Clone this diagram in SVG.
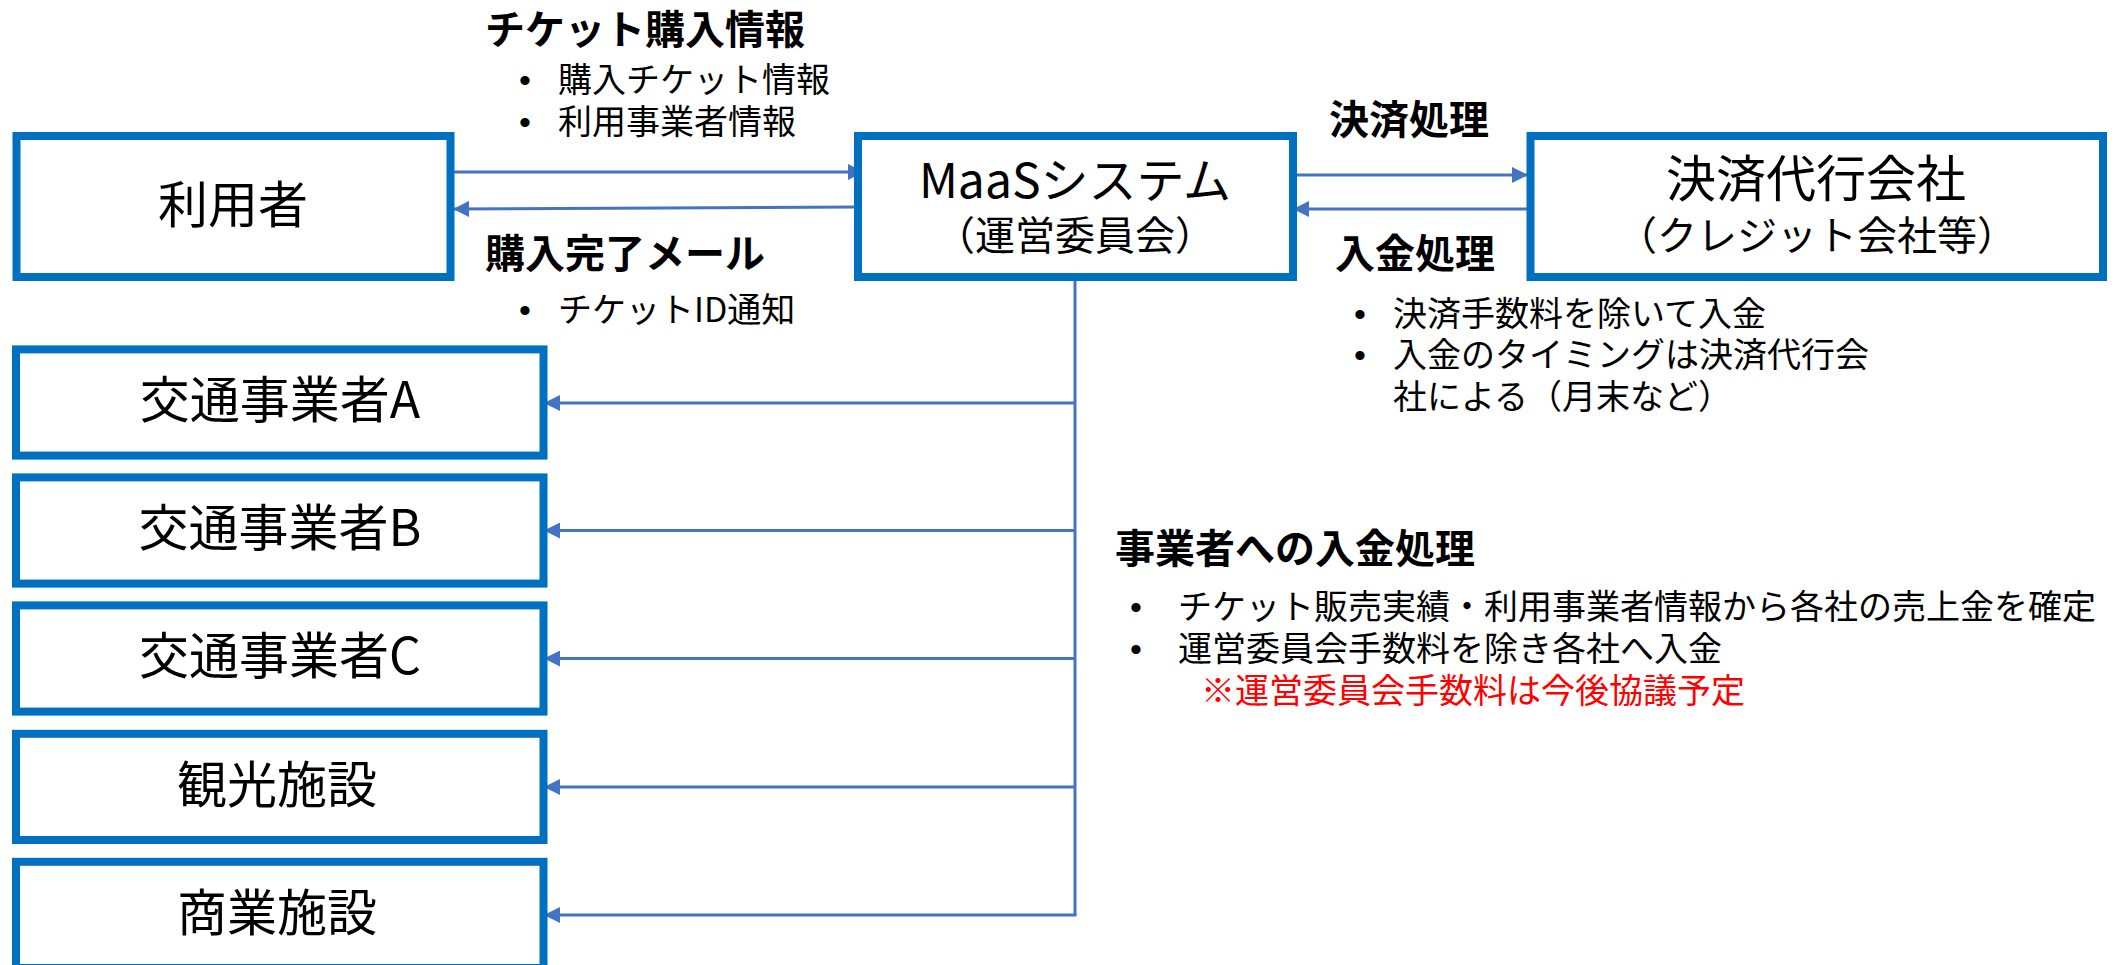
<svg xmlns="http://www.w3.org/2000/svg" width="2123" height="965" viewBox="0 0 2123 965">
<style>
.box{fill:#fff;stroke:#0070C0;stroke-width:8}
.lbl{font-family:"Noto Sans CJK JP","Noto Sans",sans-serif;fill:#000;text-anchor:middle}
.big{font-size:50px}
.h{font-family:"Noto Sans CJK JP","Noto Sans",sans-serif;font-weight:bold;font-size:40px;fill:#000}
.b{font-family:"Noto Sans CJK JP","Noto Sans",sans-serif;font-size:34px;fill:#000}
.dot{font-family:"Liberation Sans",sans-serif;font-size:34px;fill:#000}
.red{fill:#FF0000}
.con{fill:none;stroke:#4472C4;stroke-width:3}
</style>
<defs>
<marker id="ah" markerUnits="userSpaceOnUse" markerWidth="16" markerHeight="16" refX="16" refY="8" orient="auto">
<path d="M0,0 L16,8 L0,16 z" fill="#4472C4"/>
</marker>
</defs>
<rect width="2123" height="965" fill="#fff"/>

<g id="connectors">
<path class="con" d="M454,172 H864" marker-end="url(#ah)"/>
<path class="con" d="M857,207 L453,209" marker-end="url(#ah)"/>
<path class="con" d="M1297,175 H1528" marker-end="url(#ah)"/>
<path class="con" d="M1527,209 H1293" marker-end="url(#ah)"/>
<path class="con" d="M1075,281 V915"/>
<path class="con" d="M1076,403 H544" marker-end="url(#ah)"/>
<path class="con" d="M1076,530.5 H544" marker-end="url(#ah)"/>
<path class="con" d="M1076,658.5 H544" marker-end="url(#ah)"/>
<path class="con" d="M1076,787 H544" marker-end="url(#ah)"/>
<path class="con" d="M1076.5,915 H544" marker-end="url(#ah)"/>
</g>

<g id="user">
<rect class="box" x="16.5" y="136" width="434" height="141"/>
<text class="lbl big" x="233" y="223">利用者</text>
</g>
<g id="maas">
<rect class="box" x="858" y="136" width="435" height="141"/>
<text class="lbl" x="1075" y="198" font-size="48">MaaSシステム</text>
<text class="lbl" x="1075" y="250" font-size="40">（運営委員会）</text>
</g>
<g id="payment">
<rect class="box" x="1530.5" y="136" width="572.5" height="141"/>
<text class="lbl big" x="1816" y="197">決済代行会社</text>
<text class="lbl" x="1817" y="250" font-size="40">（クレジット会社等）</text>
</g>
<g id="opA">
<rect class="box" x="16" y="349.4" width="527.5" height="106.2"/>
<text class="lbl big" x="280" y="418">交通事業者A</text>
</g>
<g id="opB">
<rect class="box" x="16" y="477.4" width="527.5" height="106.2"/>
<text class="lbl big" x="280" y="546">交通事業者B</text>
</g>
<g id="opC">
<rect class="box" x="16" y="605.4" width="527.5" height="106.2"/>
<text class="lbl big" x="280" y="674">交通事業者C</text>
</g>
<g id="tourism">
<rect class="box" x="16" y="733.8" width="527.5" height="106.2"/>
<text class="lbl big" x="277" y="802.5">観光施設</text>
</g>
<g id="commerce">
<rect class="box" x="16" y="861.8" width="527.5" height="106.2"/>
<text class="lbl big" x="277" y="930.5">商業施設</text>
</g>

<g id="label-ticket">
<text class="h" x="485" y="44">チケット購入情報</text>
<text class="dot" x="519" y="92">•</text>
<text class="b" x="558" y="92">購入チケット情報</text>
<text class="dot" x="519" y="134">•</text>
<text class="b" x="558" y="134">利用事業者情報</text>
</g>
<g id="label-mail">
<text class="h" x="485" y="268">購入完了メール</text>
<text class="dot" x="519" y="321.5">•</text>
<text class="b" x="558" y="321.5">チケットID通知</text>
</g>
<g id="label-settle">
<text class="h" x="1329" y="134">決済処理</text>
</g>
<g id="label-deposit">
<text class="h" x="1335" y="268">入金処理</text>
<text class="dot" x="1354" y="325.5">•</text>
<text class="b" x="1393" y="325.5">決済手数料を除いて入金</text>
<text class="dot" x="1354" y="367">•</text>
<text class="b" x="1393" y="367">入金のタイミングは決済代行会</text>
<text class="b" x="1393" y="409">社による（月末など）</text>
</g>
<g id="label-operator">
<text class="h" x="1115" y="563">事業者への入金処理</text>
<text class="dot" x="1130" y="618.5">•</text>
<text class="b" x="1178" y="618.5">チケット販売実績・利用事業者情報から各社の売上金を確定</text>
<text class="dot" x="1130" y="660.5">•</text>
<text class="b" x="1178" y="660.5">運営委員会手数料を除き各社へ入金</text>
<text class="b red" x="1201" y="702.5">※運営委員会手数料は今後協議予定</text>
</g>
</svg>
